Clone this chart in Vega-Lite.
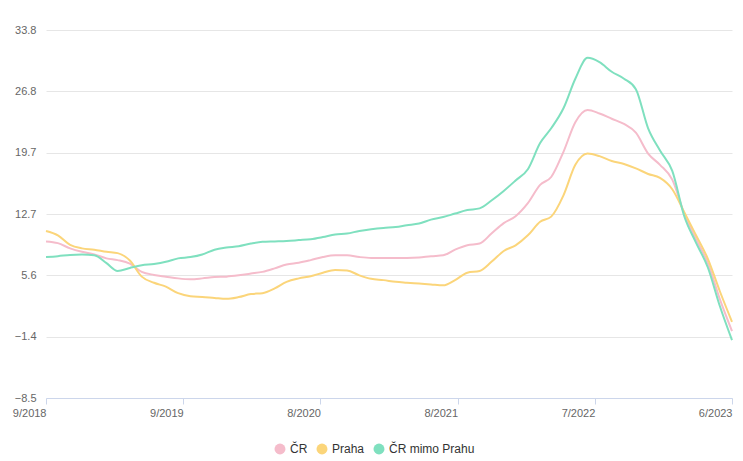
{
  "$schema": "https://vega.github.io/schema/vega-lite/v6.json",
  "width": 686,
  "height": 368,
  "autosize": "none",
  "padding": {"left": 46, "top": 30, "right": 11, "bottom": 63},
  "background": "white",
  "data": {
    "values": [
      {"date": "2018-09-01", "ČR": 9.5, "Praha": 10.7, "ČR mimo Prahu": 7.7},
      {"date": "2018-10-01", "ČR": 9.3, "Praha": 10.2, "ČR mimo Prahu": 7.8},
      {"date": "2018-11-01", "ČR": 8.7, "Praha": 9.1, "ČR mimo Prahu": 7.95},
      {"date": "2018-12-01", "ČR": 8.3, "Praha": 8.7, "ČR mimo Prahu": 8.0},
      {"date": "2019-01-01", "ČR": 8.0, "Praha": 8.55, "ČR mimo Prahu": 7.9},
      {"date": "2019-02-01", "ČR": 7.55, "Praha": 8.3, "ČR mimo Prahu": 7.0},
      {"date": "2019-03-01", "ČR": 7.35, "Praha": 8.15, "ČR mimo Prahu": 6.1},
      {"date": "2019-04-01", "ČR": 6.95, "Praha": 7.3, "ČR mimo Prahu": 6.45},
      {"date": "2019-05-01", "ČR": 6.0, "Praha": 5.45, "ČR mimo Prahu": 6.75},
      {"date": "2019-06-01", "ČR": 5.65, "Praha": 4.75, "ČR mimo Prahu": 6.9},
      {"date": "2019-07-01", "ČR": 5.45, "Praha": 4.3, "ČR mimo Prahu": 7.15},
      {"date": "2019-08-01", "ČR": 5.25, "Praha": 3.55, "ČR mimo Prahu": 7.55},
      {"date": "2019-09-01", "ČR": 5.15, "Praha": 3.2, "ČR mimo Prahu": 7.7},
      {"date": "2019-10-01", "ČR": 5.25, "Praha": 3.12, "ČR mimo Prahu": 8.0},
      {"date": "2019-11-01", "ČR": 5.4, "Praha": 3.0, "ČR mimo Prahu": 8.55},
      {"date": "2019-12-01", "ČR": 5.45, "Praha": 2.9, "ČR mimo Prahu": 8.8},
      {"date": "2020-01-01", "ČR": 5.6, "Praha": 3.1, "ČR mimo Prahu": 8.95},
      {"date": "2020-02-01", "ČR": 5.8, "Praha": 3.45, "ČR mimo Prahu": 9.25},
      {"date": "2020-03-01", "ČR": 6.0, "Praha": 3.55, "ČR mimo Prahu": 9.45},
      {"date": "2020-04-01", "ČR": 6.4, "Praha": 4.1, "ČR mimo Prahu": 9.5},
      {"date": "2020-05-01", "ČR": 6.85, "Praha": 4.85, "ČR mimo Prahu": 9.55},
      {"date": "2020-06-01", "ČR": 7.05, "Praha": 5.25, "ČR mimo Prahu": 9.65},
      {"date": "2020-07-01", "ČR": 7.35, "Praha": 5.5, "ČR mimo Prahu": 9.75},
      {"date": "2020-08-01", "ČR": 7.7, "Praha": 5.9, "ČR mimo Prahu": 10.0},
      {"date": "2020-09-01", "ČR": 7.9, "Praha": 6.2, "ČR mimo Prahu": 10.3},
      {"date": "2020-10-01", "ČR": 7.9, "Praha": 6.15, "ČR mimo Prahu": 10.4},
      {"date": "2020-11-01", "ČR": 7.7, "Praha": 5.6, "ČR mimo Prahu": 10.7},
      {"date": "2020-12-01", "ČR": 7.6, "Praha": 5.2, "ČR mimo Prahu": 10.9},
      {"date": "2021-01-01", "ČR": 7.6, "Praha": 5.05, "ČR mimo Prahu": 11.05},
      {"date": "2021-02-01", "ČR": 7.6, "Praha": 4.85, "ČR mimo Prahu": 11.15},
      {"date": "2021-03-01", "ČR": 7.6, "Praha": 4.75, "ČR mimo Prahu": 11.35},
      {"date": "2021-04-01", "ČR": 7.65, "Praha": 4.65, "ČR mimo Prahu": 11.55},
      {"date": "2021-05-01", "ČR": 7.8, "Praha": 4.55, "ČR mimo Prahu": 12.0},
      {"date": "2021-06-01", "ČR": 7.9, "Praha": 4.45, "ČR mimo Prahu": 12.3},
      {"date": "2021-07-01", "ČR": 8.55, "Praha": 5.05, "ČR mimo Prahu": 12.7},
      {"date": "2021-08-01", "ČR": 9.05, "Praha": 5.9, "ČR mimo Prahu": 13.1},
      {"date": "2021-09-01", "ČR": 9.25, "Praha": 6.1, "ČR mimo Prahu": 13.3},
      {"date": "2021-10-01", "ČR": 10.4, "Praha": 7.15, "ČR mimo Prahu": 14.2},
      {"date": "2021-11-01", "ČR": 11.6, "Praha": 8.4, "ČR mimo Prahu": 15.3},
      {"date": "2021-12-01", "ČR": 12.4, "Praha": 9.05, "ČR mimo Prahu": 16.5},
      {"date": "2022-01-01", "ČR": 13.9, "Praha": 10.2, "ČR mimo Prahu": 17.8},
      {"date": "2022-02-01", "ČR": 16.0, "Praha": 11.75, "ČR mimo Prahu": 20.8},
      {"date": "2022-03-01", "ČR": 16.9, "Praha": 12.35, "ČR mimo Prahu": 22.5},
      {"date": "2022-04-01", "ČR": 19.8, "Praha": 14.8, "ČR mimo Prahu": 24.8},
      {"date": "2022-05-01", "ČR": 23.2, "Praha": 18.3, "ČR mimo Prahu": 28.2},
      {"date": "2022-06-01", "ČR": 24.6, "Praha": 19.6, "ČR mimo Prahu": 30.6},
      {"date": "2022-07-01", "ČR": 24.2, "Praha": 19.3, "ČR mimo Prahu": 30.1},
      {"date": "2022-08-01", "ČR": 23.6, "Praha": 18.75, "ČR mimo Prahu": 29.0},
      {"date": "2022-09-01", "ČR": 23.0, "Praha": 18.4, "ČR mimo Prahu": 28.2},
      {"date": "2022-10-01", "ČR": 22.0, "Praha": 17.9, "ČR mimo Prahu": 27.0},
      {"date": "2022-11-01", "ČR": 19.6, "Praha": 17.25, "ČR mimo Prahu": 22.5},
      {"date": "2022-12-01", "ČR": 18.3, "Praha": 16.8, "ČR mimo Prahu": 19.95},
      {"date": "2023-01-01", "ČR": 16.6, "Praha": 15.5, "ČR mimo Prahu": 17.6},
      {"date": "2023-02-01", "ČR": 12.6, "Praha": 12.8, "ČR mimo Prahu": 12.3},
      {"date": "2023-03-01", "ČR": 9.85, "Praha": 10.3, "ČR mimo Prahu": 9.45},
      {"date": "2023-04-01", "ČR": 7.0, "Praha": 7.5, "ČR mimo Prahu": 6.5},
      {"date": "2023-05-01", "ČR": 2.9, "Praha": 3.8, "ČR mimo Prahu": 2.1},
      {"date": "2023-06-01", "ČR": -0.8, "Praha": 0.26, "ČR mimo Prahu": -1.85}
    ]
  },
  "transform": [
    {"fold": ["ČR", "Praha", "ČR mimo Prahu"], "as": ["series", "value"]}
  ],
  "mark": {"type": "line", "interpolate": "monotone", "strokeWidth": 2},
  "encoding": {
    "x": {
      "field": "date",
      "type": "temporal",
      "scale": {
        "type": "utc",
        "nice": false,
        "domain": [
          {"year": 2018, "month": 9, "date": 1, "utc": true},
          {"year": 2023, "month": 6, "date": 1, "utc": true}
        ]
      },
      "axis": {
        "title": null,
        "values": [1535760000000, 1565723520000, 1595687040000, 1625650560000, 1655614080000, 1685577600000],
        "labelExpr": "['9/2018','9/2019','8/2020','8/2021','7/2022','6/2023'][round(datum.index*5)]",
        "labelAlign": "right",
        "labelBound": false,
        "labelFlush": false,
        "labelOverlap": false,
        "grid": false,
        "domain": true,
        "domainColor": "#ccd6eb",
        "domainWidth": 1,
        "ticks": true,
        "tickColor": "#ccd6eb",
        "tickSize": 6,
        "labelPadding": 3,
        "labelColor": "#666666",
        "labelFontSize": 11,
        "labelFont": "Liberation Sans"
      }
    },
    "y": {
      "field": "value",
      "type": "quantitative",
      "scale": {"domain": [-8.5, 33.8], "nice": false, "zero": false},
      "axis": {
        "title": null,
        "values": [-8.5, -1.45, 5.6, 12.65, 19.7, 26.75, 33.8],
        "format": ".1f",
        "domain": false,
        "ticks": false,
        "grid": true,
        "gridColor": "#e6e6e6",
        "gridWidth": 1,
        "labelPadding": 10,
        "labelColor": "#666666",
        "labelFontSize": 11,
        "labelFont": "Liberation Sans"
      }
    },
    "color": {
      "field": "series",
      "type": "nominal",
      "sort": ["ČR", "Praha", "ČR mimo Prahu"],
      "scale": {
        "domain": ["ČR", "Praha", "ČR mimo Prahu"],
        "range": ["#f5bccb", "#fbd57a", "#7fe0bf"]
      },
      "legend": {
        "title": null,
        "orient": "none",
        "legendX": 228,
        "legendY": 413,
        "direction": "horizontal",
        "symbolType": "circle",
        "symbolSize": 120,
        "symbolStrokeWidth": 0,
        "labelFontSize": 12,
        "labelColor": "#333333",
        "labelFont": "Liberation Sans",
        "labelOffset": 4,
        "columnPadding": 8,
        "encode": {
          "symbols": {
            "update": {
              "fill": {"scale": "color", "field": "value"},
              "fillOpacity": {"value": 1}
            }
          }
        }
      }
    }
  },
  "config": {
    "view": {"stroke": null}
  }
}
